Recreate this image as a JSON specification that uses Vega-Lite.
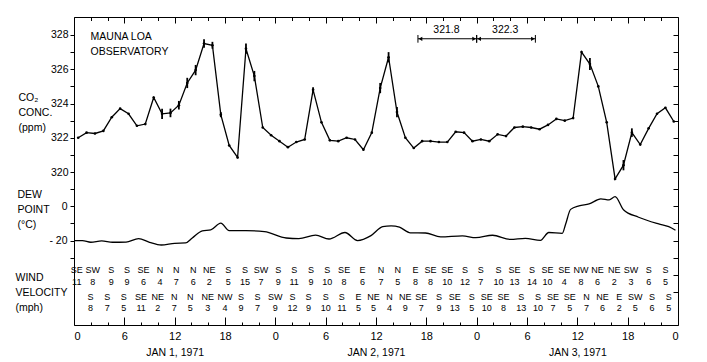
{
  "$schema": "https://vega.github.io/schema/vega-lite/v6.json",
  "width": 604,
  "height": 308,
  "autosize": {"type": "none"},
  "padding": {"left": 74, "top": 17, "right": 29, "bottom": 37},
  "background": "white",
  "config": {
    "view": {"stroke": "black", "strokeWidth": 1},
    "font": "Liberation Sans",
    "axis": {"domain": false, "grid": false, "tickColor": "black", "labelColor": "black", "titleColor": "black", "labelFont": "Liberation Sans", "titleFont": "Liberation Sans", "titleFontWeight": "normal", "tickWidth": 1, "labelFontSize": 10.5, "titleFontSize": 10.5}
  },
  "datasets": {
    "co2": [
      {"hour": 0.5, "ppm": 322.0}, {"hour": 1.5, "ppm": 322.3}, {"hour": 2.5, "ppm": 322.25}, {"hour": 3.5, "ppm": 322.4},
      {"hour": 4.5, "ppm": 323.2}, {"hour": 5.5, "ppm": 323.7}, {"hour": 6.5, "ppm": 323.4}, {"hour": 7.5, "ppm": 322.7},
      {"hour": 8.5, "ppm": 322.8}, {"hour": 9.5, "ppm": 324.35}, {"hour": 10.5, "ppm": 323.4, "lo": 323.1, "hi": 323.7},
      {"hour": 11.5, "ppm": 323.45, "lo": 323.2, "hi": 323.7}, {"hour": 12.5, "ppm": 323.9, "lo": 323.65, "hi": 324.15},
      {"hour": 13.5, "ppm": 325.2, "lo": 324.9, "hi": 325.5}, {"hour": 14.5, "ppm": 325.95, "lo": 325.65, "hi": 326.25},
      {"hour": 15.5, "ppm": 327.5, "lo": 327.25, "hi": 327.75}, {"hour": 16.5, "ppm": 327.4, "lo": 327.2, "hi": 327.6},
      {"hour": 17.5, "ppm": 323.35, "lo": 323.2, "hi": 323.5}, {"hour": 18.5, "ppm": 321.55}, {"hour": 19.5, "ppm": 320.85},
      {"hour": 20.5, "ppm": 327.2, "lo": 326.9, "hi": 327.5}, {"hour": 21.5, "ppm": 325.6, "lo": 325.3, "hi": 325.9},
      {"hour": 22.5, "ppm": 322.6}, {"hour": 23.5, "ppm": 322.15}, {"hour": 24.5, "ppm": 321.8}, {"hour": 25.5, "ppm": 321.45},
      {"hour": 26.5, "ppm": 321.75}, {"hour": 27.5, "ppm": 321.9}, {"hour": 28.5, "ppm": 324.8, "lo": 324.65, "hi": 324.95},
      {"hour": 29.5, "ppm": 322.9}, {"hour": 30.5, "ppm": 321.85}, {"hour": 31.5, "ppm": 321.8}, {"hour": 32.5, "ppm": 322.0},
      {"hour": 33.5, "ppm": 321.9}, {"hour": 34.5, "ppm": 321.3}, {"hour": 35.5, "ppm": 322.3},
      {"hour": 36.5, "ppm": 324.9, "lo": 324.6, "hi": 325.2}, {"hour": 37.5, "ppm": 326.7, "lo": 326.4, "hi": 327.0},
      {"hour": 38.5, "ppm": 323.5, "lo": 323.2, "hi": 323.8}, {"hour": 39.5, "ppm": 322.0}, {"hour": 40.5, "ppm": 321.4},
      {"hour": 41.5, "ppm": 321.8}, {"hour": 42.5, "ppm": 321.8}, {"hour": 43.5, "ppm": 321.75}, {"hour": 44.5, "ppm": 321.75},
      {"hour": 45.5, "ppm": 322.35}, {"hour": 46.5, "ppm": 322.3}, {"hour": 47.5, "ppm": 321.8}, {"hour": 48.5, "ppm": 321.9},
      {"hour": 49.5, "ppm": 321.8}, {"hour": 50.5, "ppm": 322.2}, {"hour": 51.5, "ppm": 322.1}, {"hour": 52.5, "ppm": 322.6},
      {"hour": 53.5, "ppm": 322.65}, {"hour": 54.5, "ppm": 322.6}, {"hour": 55.5, "ppm": 322.5}, {"hour": 56.5, "ppm": 322.75},
      {"hour": 57.5, "ppm": 323.1}, {"hour": 58.5, "ppm": 323.0}, {"hour": 59.5, "ppm": 323.15}, {"hour": 60.5, "ppm": 327.0},
      {"hour": 61.5, "ppm": 326.3, "lo": 325.95, "hi": 326.65}, {"hour": 62.5, "ppm": 325.0}, {"hour": 63.5, "ppm": 322.9},
      {"hour": 64.5, "ppm": 319.6}, {"hour": 65.5, "ppm": 320.4, "lo": 320.1, "hi": 320.7},
      {"hour": 66.5, "ppm": 322.3, "lo": 322.05, "hi": 322.55}, {"hour": 67.5, "ppm": 321.6}, {"hour": 68.5, "ppm": 322.55},
      {"hour": 69.5, "ppm": 323.4}, {"hour": 70.5, "ppm": 323.75}, {"hour": 71.5, "ppm": 322.95}
    ],
    "dew": [
      {"hour": 0, "dew": -20.0}, {"hour": 1, "dew": -20.0}, {"hour": 2, "dew": -21.0}, {"hour": 3.3, "dew": -20.2},
      {"hour": 4.6, "dew": -21.0}, {"hour": 6.2, "dew": -20.9}, {"hour": 7.7, "dew": -18.9}, {"hour": 9, "dew": -21.0},
      {"hour": 10.4, "dew": -22.6}, {"hour": 12, "dew": -21.6}, {"hour": 13.3, "dew": -21.4}, {"hour": 14.1, "dew": -18.5},
      {"hour": 15.3, "dew": -14.3}, {"hour": 16.3, "dew": -13.8}, {"hour": 17.5, "dew": -9.8}, {"hour": 18.5, "dew": -14.2},
      {"hour": 20.5, "dew": -14.2}, {"hour": 22.7, "dew": -14.8}, {"hour": 25.3, "dew": -18.5}, {"hour": 26.8, "dew": -18.9},
      {"hour": 28.8, "dew": -16.8}, {"hour": 30.4, "dew": -19.1}, {"hour": 32.3, "dew": -15.3}, {"hour": 33.8, "dew": -20.0},
      {"hour": 35.4, "dew": -17.1}, {"hour": 36.8, "dew": -11.9}, {"hour": 37.8, "dew": -11.4}, {"hour": 38.8, "dew": -12.2},
      {"hour": 40.1, "dew": -15.5}, {"hour": 41.9, "dew": -15.6}, {"hour": 43.7, "dew": -17.9}, {"hour": 46.3, "dew": -17.3},
      {"hour": 47.9, "dew": -18.3}, {"hour": 49.9, "dew": -16.9}, {"hour": 52, "dew": -19.3}, {"hour": 53.8, "dew": -18.7},
      {"hour": 55.6, "dew": -19.9}, {"hour": 56.6, "dew": -15.3}, {"hour": 58.2, "dew": -15.8}, {"hour": 58.6, "dew": -10.5},
      {"hour": 59.2, "dew": -1.8}, {"hour": 60.2, "dew": 0.3}, {"hour": 61.4, "dew": 1.4}, {"hour": 62.8, "dew": 4.3},
      {"hour": 63.8, "dew": 3.7}, {"hour": 64.5, "dew": 5.6}, {"hour": 65.5, "dew": -2.0}, {"hour": 67.3, "dew": -6.4},
      {"hour": 69.7, "dew": -10.3}, {"hour": 70.9, "dew": -11.9}, {"hour": 71.7, "dew": -14.0}
    ],
    "means": [
      {"start": 41, "end": 48, "mid": 44.4, "label": "321.8"},
      {"start": 48, "end": 55, "mid": 51.4, "label": "322.3"}
    ],
    "wind": [
      {"hour": 0.33, "row": 1, "dir": "SE", "speed": 11}, {"hour": 2.24, "row": 1, "dir": "SW", "speed": 8},
      {"hour": 4.43, "row": 1, "dir": "S", "speed": 9}, {"hour": 6.33, "row": 1, "dir": "S", "speed": 9},
      {"hour": 8.27, "row": 1, "dir": "SE", "speed": 6}, {"hour": 10.26, "row": 1, "dir": "N", "speed": 4},
      {"hour": 12.2, "row": 1, "dir": "N", "speed": 7}, {"hour": 14.23, "row": 1, "dir": "N", "speed": 6},
      {"hour": 16.13, "row": 1, "dir": "NE", "speed": 2}, {"hour": 18.39, "row": 1, "dir": "S", "speed": 5},
      {"hour": 20.38, "row": 1, "dir": "S", "speed": 15}, {"hour": 22.29, "row": 1, "dir": "SW", "speed": 7},
      {"hour": 24.35, "row": 1, "dir": "S", "speed": 9}, {"hour": 26.25, "row": 1, "dir": "S", "speed": 11},
      {"hour": 28.24, "row": 1, "dir": "S", "speed": 9}, {"hour": 30.18, "row": 1, "dir": "S", "speed": 10},
      {"hour": 32.2, "row": 1, "dir": "SE", "speed": 8}, {"hour": 34.4, "row": 1, "dir": "E", "speed": 6},
      {"hour": 36.6, "row": 1, "dir": "N", "speed": 7}, {"hour": 38.6, "row": 1, "dir": "N", "speed": 5},
      {"hour": 40.7, "row": 1, "dir": "E", "speed": 8}, {"hour": 42.5, "row": 1, "dir": "SE", "speed": 8},
      {"hour": 44.5, "row": 1, "dir": "SE", "speed": 10}, {"hour": 46.6, "row": 1, "dir": "S", "speed": 12},
      {"hour": 48.5, "row": 1, "dir": "S", "speed": 7}, {"hour": 50.6, "row": 1, "dir": "S", "speed": 10},
      {"hour": 52.5, "row": 1, "dir": "SE", "speed": 13}, {"hour": 54.6, "row": 1, "dir": "S", "speed": 14},
      {"hour": 56.45, "row": 1, "dir": "SE", "speed": 10}, {"hour": 58.45, "row": 1, "dir": "SE", "speed": 4},
      {"hour": 60.45, "row": 1, "dir": "NW", "speed": 8}, {"hour": 62.4, "row": 1, "dir": "NE", "speed": 6},
      {"hour": 64.4, "row": 1, "dir": "NE", "speed": 2}, {"hour": 66.4, "row": 1, "dir": "SW", "speed": 3},
      {"hour": 68.5, "row": 1, "dir": "S", "speed": 6}, {"hour": 70.5, "row": 1, "dir": "S", "speed": 5},
      {"hour": 1.96, "row": 2, "dir": "S", "speed": 8}, {"hour": 3.95, "row": 2, "dir": "S", "speed": 7},
      {"hour": 5.93, "row": 2, "dir": "S", "speed": 5}, {"hour": 8.0, "row": 2, "dir": "SE", "speed": 11},
      {"hour": 9.98, "row": 2, "dir": "NE", "speed": 2}, {"hour": 11.96, "row": 2, "dir": "N", "speed": 7},
      {"hour": 13.87, "row": 2, "dir": "N", "speed": 5}, {"hour": 15.93, "row": 2, "dir": "NE", "speed": 3},
      {"hour": 18.0, "row": 2, "dir": "NW", "speed": 4}, {"hour": 19.9, "row": 2, "dir": "S", "speed": 9},
      {"hour": 21.88, "row": 2, "dir": "S", "speed": 7}, {"hour": 23.99, "row": 2, "dir": "SW", "speed": 9},
      {"hour": 26.05, "row": 2, "dir": "S", "speed": 12}, {"hour": 27.95, "row": 2, "dir": "S", "speed": 9},
      {"hour": 30.02, "row": 2, "dir": "S", "speed": 10}, {"hour": 31.93, "row": 2, "dir": "S", "speed": 11},
      {"hour": 33.9, "row": 2, "dir": "E", "speed": 5}, {"hour": 35.7, "row": 2, "dir": "NE", "speed": 5},
      {"hour": 37.6, "row": 2, "dir": "N", "speed": 4}, {"hour": 39.5, "row": 2, "dir": "NE", "speed": 9},
      {"hour": 41.4, "row": 2, "dir": "SE", "speed": 7}, {"hour": 43.5, "row": 2, "dir": "S", "speed": 9},
      {"hour": 45.4, "row": 2, "dir": "SE", "speed": 13}, {"hour": 47.4, "row": 2, "dir": "S", "speed": 5},
      {"hour": 49.2, "row": 2, "dir": "SE", "speed": 10}, {"hour": 51.2, "row": 2, "dir": "SE", "speed": 8},
      {"hour": 53.3, "row": 2, "dir": "S", "speed": 13}, {"hour": 55.3, "row": 2, "dir": "S", "speed": 10},
      {"hour": 57.1, "row": 2, "dir": "SE", "speed": 7}, {"hour": 59.1, "row": 2, "dir": "SE", "speed": 5},
      {"hour": 61.1, "row": 2, "dir": "N", "speed": 7}, {"hour": 63.0, "row": 2, "dir": "NE", "speed": 6},
      {"hour": 65.0, "row": 2, "dir": "E", "speed": 2}, {"hour": 66.9, "row": 2, "dir": "SW", "speed": 5},
      {"hour": 68.9, "row": 2, "dir": "S", "speed": 6}, {"hour": 70.9, "row": 2, "dir": "S", "speed": 5}
    ]
  },
  "layer": [
    {
      "layer": [
        {
          "data": {"name": "co2"},
          "mark": {"type": "line", "color": "black", "strokeWidth": 1.3},
          "encoding": {
            "x": {"field": "hour", "type": "quantitative", "scale": {"domain": [0, 72], "nice": false, "zero": false},
              "axis": {"orient": "bottom", "values": [0, 6, 12, 18, 24, 30, 36, 42, 48, 54, 60, 66, 72], "labelExpr": "'' + (datum.value % 24)", "ticks": false, "tickSize": 0, "labelPadding": 5, "labelFontSize": 11, "title": null}},
            "y": {"field": "ppm", "type": "quantitative", "scale": {"domain": [311.07, 329.05], "nice": false, "zero": false},
              "axis": {"orient": "left", "values": [320, 321, 322, 323, 324, 325, 326, 327, 328], "labelExpr": "datum.value % 2 == 0 ? datum.label : ''", "tickSize": 4, "labelPadding": 2,
                "title": ["CO₂", "CONC.", "(ppm)"], "titleAngle": 0, "titleAlign": "left", "titleBaseline": "top", "titleX": -56, "titleY": 75, "titleLineHeight": 15}}
          }
        },
        {
          "data": {"name": "co2"},
          "mark": {"type": "point", "filled": true, "color": "black", "size": 7, "opacity": 1},
          "encoding": {
            "x": {"field": "hour", "type": "quantitative", "scale": {"domain": [0, 72], "nice": false, "zero": false},
              "axis": {"orient": "top", "offset": -308, "values": [0, 6, 12, 18, 24, 30, 36, 42, 48, 54, 60, 66, 72], "labels": false, "tickSize": 8, "title": null}},
            "y": {"field": "ppm", "type": "quantitative", "scale": {"domain": [311.07, 329.05], "nice": false, "zero": false},
              "axis": {"orient": "left", "offset": -604, "values": [313, 314, 315, 316, 317, 318, 319, 320, 321, 322, 323, 324, 325, 326, 327, 328], "labels": false, "tickSize": 5, "title": null}}
          }
        },
        {
          "data": {"name": "co2"},
          "transform": [{"filter": "isValid(datum.lo)"}],
          "mark": {"type": "rule", "color": "black", "strokeWidth": 1.8},
          "encoding": {
            "x": {"field": "hour", "type": "quantitative", "scale": {"domain": [0, 72], "nice": false, "zero": false},
              "axis": {"orient": "top", "offset": -308, "values": [2, 4, 8, 10, 14, 16, 20, 22, 26, 28, 32, 34, 38, 40, 44, 46, 50, 52, 56, 58, 62, 64, 68, 70], "labels": false, "tickSize": 3, "title": null}},
            "y": {"field": "lo", "type": "quantitative", "axis": null},
            "y2": {"field": "hi"}
          }
        },
        {
          "data": {"name": "means"},
          "mark": {"type": "rule", "color": "black", "strokeWidth": 1},
          "encoding": {
            "x": {"field": "start", "type": "quantitative", "scale": {"domain": [0, 72], "nice": false, "zero": false},
              "axis": {"orient": "bottom", "offset": -308, "values": [0, 6, 12, 18, 24, 30, 36, 42, 48, 54, 60, 66, 72], "labels": false, "tickSize": 6, "title": null}},
            "x2": {"field": "end"},
            "y": {"datum": 327.78, "type": "quantitative", "axis": null}
          }
        },
        {
          "data": {"name": "means"},
          "mark": {"type": "rule", "color": "black", "strokeWidth": 1},
          "encoding": {
            "x": {"field": "start", "type": "quantitative", "scale": {"domain": [0, 72], "nice": false, "zero": false},
              "axis": {"orient": "bottom", "offset": -308, "values": [2, 4, 8, 10, 14, 16, 20, 22, 26, 28, 32, 34, 38, 40, 44, 46, 50, 52, 56, 58, 62, 64, 68, 70], "labels": false, "tickSize": 3.5, "title": null}},
            "y": {"datum": 327.55, "type": "quantitative", "axis": null},
            "y2": {"datum": 328.0}
          }
        },
        {
          "data": {"name": "means"},
          "mark": {"type": "rule", "color": "black", "strokeWidth": 1},
          "encoding": {
            "x": {"field": "end", "type": "quantitative", "scale": {"domain": [0, 72], "nice": false, "zero": false}, "axis": null},
            "y": {"datum": 327.55, "type": "quantitative", "axis": null},
            "y2": {"datum": 328.0}
          }
        },
        {
          "data": {"name": "means"},
          "mark": {"type": "point", "shape": "triangle-left", "filled": true, "color": "black", "size": 18, "opacity": 1, "xOffset": 2.5},
          "encoding": {
            "x": {"field": "start", "type": "quantitative", "scale": {"domain": [0, 72], "nice": false, "zero": false}, "axis": null},
            "y": {"datum": 327.78, "type": "quantitative", "axis": null}
          }
        },
        {
          "data": {"name": "means"},
          "mark": {"type": "point", "shape": "triangle-right", "filled": true, "color": "black", "size": 18, "opacity": 1, "xOffset": -2.5},
          "encoding": {
            "x": {"field": "end", "type": "quantitative", "scale": {"domain": [0, 72], "nice": false, "zero": false}, "axis": null},
            "y": {"datum": 327.78, "type": "quantitative", "axis": null}
          }
        },
        {
          "data": {"name": "means"},
          "mark": {"type": "text", "color": "black", "fontSize": 10.5, "baseline": "middle", "align": "center"},
          "encoding": {
            "x": {"field": "mid", "type": "quantitative", "scale": {"domain": [0, 72], "nice": false, "zero": false},
              "axis": {"orient": "bottom", "values": [12, 36, 60], "labelExpr": "datum.value == 12 ? 'JAN 1, 1971' : datum.value == 36 ? 'JAN 2, 1971' : 'JAN 3, 1971'", "ticks": false, "tickSize": 0, "labelPadding": 22, "labelFontSize": 10.5, "title": null}},
            "y": {"datum": 328.27, "type": "quantitative", "axis": null},
            "text": {"field": "label"}
          }
        },
        {
          "data": {"values": [{"label": "MAUNA LOA\nOBSERVATORY"}]},
          "mark": {"type": "text", "color": "black", "fontSize": 10.5, "baseline": "top", "align": "left", "lineBreak": "\n", "lineHeight": 15},
          "encoding": {
            "x": {"datum": 1.98, "type": "quantitative", "scale": {"domain": [0, 72], "nice": false, "zero": false}, "axis": null},
            "y": {"datum": 328.15, "type": "quantitative", "axis": null},
            "text": {"field": "label"}
          }
        }
      ],
      "resolve": {"axis": {"x": "independent", "y": "independent"}}
    },
    {
      "data": {"name": "dew"},
      "mark": {"type": "line", "color": "black", "strokeWidth": 1.3, "interpolate": "monotone"},
      "encoding": {
        "x": {"field": "hour", "type": "quantitative", "scale": {"domain": [0, 72], "nice": false, "zero": false}, "axis": null},
        "y": {"field": "dew", "type": "quantitative", "scale": {"domain": [-69.3, 110.5], "nice": false, "zero": false},
          "axis": {"orient": "left", "values": [-30, -20, -10, 0, 10], "labelExpr": "datum.value == 0 ? '0' : datum.value == -20 ? '- 20' : ''", "tickSize": 4, "labelPadding": 3,
            "title": ["DEW", "POINT", "(°C)"], "titleAngle": 0, "titleAlign": "left", "titleBaseline": "top", "titleX": -57, "titleY": 172, "titleLineHeight": 15}}
      }
    },
    {
      "data": {"name": "wind"},
      "mark": {"type": "text", "color": "black", "fontSize": 9, "baseline": "middle", "align": "center", "dy": -6},
      "encoding": {
        "x": {"field": "hour", "type": "quantitative", "scale": {"domain": [0, 72], "nice": false, "zero": false}, "axis": null},
        "y": {"field": "row", "type": "quantitative", "scale": {"domain": [1, 2], "range": [259, 285.5]},
          "axis": {"orient": "left", "ticks": false, "labels": false, "values": [],
            "title": ["WIND", "VELOCITY", "(mph)"], "titleAngle": 0, "titleAlign": "left", "titleBaseline": "top", "titleX": -59, "titleY": 255, "titleLineHeight": 15}},
        "text": {"field": "dir"}
      }
    },
    {
      "data": {"name": "wind"},
      "mark": {"type": "text", "color": "black", "fontSize": 9, "baseline": "middle", "align": "center", "dy": 5.5},
      "encoding": {
        "x": {"field": "hour", "type": "quantitative", "scale": {"domain": [0, 72], "nice": false, "zero": false}, "axis": null},
        "y": {"field": "row", "type": "quantitative", "scale": {"domain": [1, 2], "range": [259, 285.5]}, "axis": null},
        "text": {"field": "speed"}
      }
    }
  ],
  "resolve": {"scale": {"y": "independent"}, "axis": {"x": "independent", "y": "independent"}}
}
